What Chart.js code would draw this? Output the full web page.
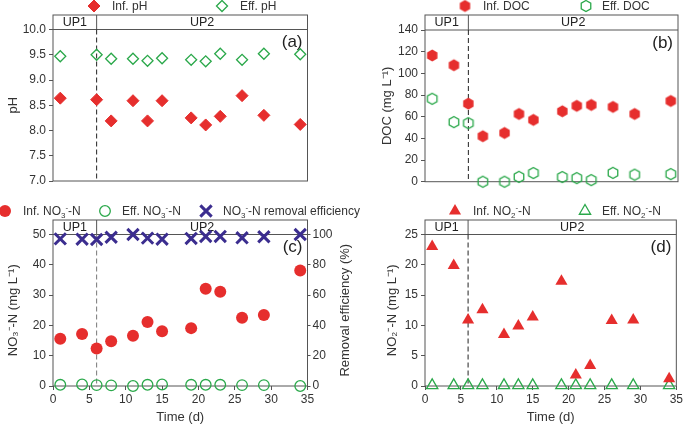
<!DOCTYPE html>
<html>
<head>
<meta charset="utf-8">
<script src="https://cdn.jsdelivr.net/npm/chart.js@4.4.1/dist/chart.umd.min.js"></script>
<style>
  body { margin: 0; background: #fff; }
  #wrap { position: relative; width: 685px; height: 426px; overflow: hidden; }
  canvas { position: absolute; }
</style>
</head>
<body>
<div id="wrap">
  <canvas id="pa" width="345" height="200" style="left:0;top:0"></canvas>
  <canvas id="pb" width="345" height="200" style="left:340px;top:0"></canvas>
  <canvas id="pc" width="365" height="226" style="left:0;top:200px"></canvas>
  <canvas id="pd" width="345" height="226" style="left:340px;top:200px"></canvas>
</div>
<script>
// sampling days (d)
var daysPH = [1, 6, 8, 11, 13, 15, 19, 21, 23, 26, 29, 34];
var days = [1, 4, 6, 8, 11, 13, 15, 19, 21, 23, 26, 29, 34];
var splitDay = 6;

// (a) pH
var infPH = [8.64, 8.61, 8.19, 8.59, 8.19, 8.59, 8.25, 8.11, 8.28, 8.69, 8.30, 8.12];
var effPH = [9.47, 9.50, 9.42, 9.42, 9.38, 9.43, 9.40, 9.37, 9.52, 9.40, 9.52, 9.51];
// (b) DOC, mg/L
var infDOC = [116.5, 107.5, 72, 42, 45, 62.5, 57, 65, 70, 70.8, 69, 62.5, 74.5];
var effDOC = [76.5, 55, 54, 0, 0, 4.5, 8, 4.3, 3.3, 1.5, 8.2, 6.5, 7];
// (c) nitrate, mg/L and removal %
var infNO3 = [15.6, 17.2, 12.4, 14.8, 16.6, 21.1, 18.1, 19.1, 32.1, 31.1, 22.5, 23.4, 38.1];
var effNO3 = [0.4, 0.5, 0.3, 0.2, 0, 0.4, 0.5, 0.4, 0.4, 0.4, 0.3, 0.3, 0];
var removalNO3 = [97.1, 96.9, 96.7, 98.2, 100, 97.6, 96.9, 97.4, 98.7, 98.7, 97.8, 98.5, 100];
// (d) nitrite, mg/L
var infNO2 = [23, 19.9, 10.9, 12.6, 8.5, 9.9, 11.4, 17.3, 1.8, 3.4, 10.8, 10.9, 1.2];
var effNO2 = [0.1, 0.1, 0.1, 0.1, 0.1, 0.1, 0.1, 0.1, 0.1, 0.1, 0.1, 0.1, 0.1];

var red = '#e62e2d';
var green = '#2aa84a';
var purple = '#3b2d8f';
var frame = '#555';
var txt = '#333';
var FONT = '"Liberation Sans", Arial, sans-serif';

function pts(xs, ys) {
  return xs.map(function(d, i) { return {x: d, y: ys[i]}; });
}

function hexagon(size, fill, stroke, lw) {
  var c = document.createElement('canvas');
  c.width = size + 3; c.height = size + 3;
  var g = c.getContext('2d');
  var r = size / 2, cx = c.width / 2, cy = c.height / 2;
  g.beginPath();
  for (var k = 0; k < 6; k++) {
    var a = -Math.PI / 2 + k * Math.PI / 3;
    if (k == 0) g.moveTo(cx + r * Math.cos(a), cy + r * Math.sin(a));
    else g.lineTo(cx + r * Math.cos(a), cy + r * Math.sin(a));
  }
  g.closePath();
  if (fill) { g.fillStyle = fill; g.fill(); }
  if (stroke) { g.strokeStyle = stroke; g.lineWidth = lw; g.stroke(); }
  return c;
}
var hexRed = hexagon(12, red, null, 0);
var hexGreen = hexagon(11, null, green, 1.3);

// legend text with _x subscripts and ^x superscripts
function drawRich(ctx, s, x, y) {
  var re = /([_^])(.)/g, last = 0, m;
  var parts = [];
  while ((m = re.exec(s))) {
    if (m.index > last) parts.push([s.slice(last, m.index), 0]);
    parts.push([m[2], m[1] == '_' ? 1 : -1]);
    last = re.lastIndex;
  }
  if (last < s.length) parts.push([s.slice(last), 0]);
  parts.forEach(function(p) {
    ctx.font = (p[1] ? '8px ' : '12px ') + FONT;
    ctx.fillText(p[0], x, y + p[1] * 4);
    x += ctx.measureText(p[0]).width;
  });
}

// frame, UP1/UP2 header box, dashed divider, panel tag and legend
var panelDeco = {
  id: 'panelDeco',
  beforeDatasetsDraw: function(chart, args, o) {
    var ctx = chart.ctx, a = chart.chartArea;
    var xd = chart.scales.x.getPixelForValue(splitDay);
    var top = a.top - o.headerH;
    ctx.save();
    ctx.strokeStyle = frame;
    ctx.lineWidth = 1;
    ctx.strokeRect(a.left, top, a.right - a.left, a.bottom - top);
    ctx.beginPath();
    ctx.moveTo(a.left, a.top); ctx.lineTo(a.right, a.top);
    ctx.moveTo(xd, top); ctx.lineTo(xd, a.top);
    ctx.stroke();
    ctx.setLineDash([5, 3]);
    ctx.strokeStyle = o.dashColor;
    ctx.beginPath();
    ctx.moveTo(xd, a.top); ctx.lineTo(xd, a.bottom);
    ctx.stroke();
    ctx.setLineDash([]);
    ctx.fillStyle = '#222';
    ctx.font = '12.5px ' + FONT;
    ctx.textAlign = 'center';
    ctx.textBaseline = 'middle';
    ctx.fillText('UP1', (a.left + xd) / 2, top + o.headerH / 2 + 0.5);
    ctx.fillText('UP2', (xd + a.right) / 2, top + o.headerH / 2 + 0.5);
    ctx.font = '17px ' + FONT;
    ctx.textAlign = 'right';
    ctx.fillText(o.tag, a.right - 5, a.top + 13);
    ctx.restore();
  },
  afterDraw: function(chart, args, o) {
    var ctx = chart.ctx;
    ctx.save();
    o.legend.forEach(function(it) {
      ctx.fillStyle = it.fill;
      ctx.strokeStyle = it.stroke;
      ctx.lineWidth = it.lw;
      Chart.helpers.drawPoint(ctx, {pointStyle: it.style, radius: it.radius, rotation: 0, borderWidth: it.lw}, it.x, o.legendY);
      ctx.fillStyle = txt;
      ctx.textAlign = 'left';
      ctx.textBaseline = 'middle';
      drawRich(ctx, it.text, it.tx, o.legendY + 1);
    });
    if (o.rightTitle) {
      var a = chart.chartArea;
      ctx.translate(o.rightTitle.x, (a.top + a.bottom) / 2);
      ctx.rotate(-Math.PI / 2);
      ctx.font = '13px ' + FONT;
      ctx.textAlign = 'center';
      ctx.fillText(o.rightTitle.text, 0, 0);
    }
    ctx.restore();
  }
};

function yAxis(min, max, step, title, width, titlePad, dec) {
  return {
    min: min, max: max,
    ticks: {stepSize: step, color: txt, font: {family: FONT, size: 12}, padding: 3,
      callback: function(v) { return dec ? v.toFixed(dec) : v; }},
    grid: {drawOnChartArea: false, drawTicks: true, tickLength: 4, color: frame},
    border: {display: false},
    title: {display: true, text: title, color: txt, font: {family: FONT, size: 13}, padding: {top: titlePad, bottom: 0}},
    afterFit: function(s) { s.width = width; }
  };
}

function xAxis(showLabels, height) {
  return {
    type: 'linear', min: 0, max: 35,
    ticks: {display: showLabels, stepSize: 5, color: txt, font: {family: FONT, size: 12}, padding: 2},
    grid: {display: showLabels, drawOnChartArea: false, drawTicks: true, tickLength: 4, color: frame},
    border: {display: false},
    title: {display: showLabels, text: 'Time (d)', color: txt, font: {family: FONT, size: 13}, padding: {top: 0, bottom: 1}},
    afterFit: function(s) { s.height = height; }
  };
}

function baseOptions(scales, padding, deco) {
  return {
    responsive: false,
    animation: false,
    events: [],
    layout: {padding: padding},
    scales: scales,
    plugins: {legend: {display: false}, tooltip: {enabled: false}, panelDeco: deco}
  };
}

// (a)
new Chart(document.getElementById('pa'), {
  type: 'scatter',
  data: {datasets: [
    {label: 'Inf. pH', data: pts(daysPH, infPH), pointStyle: 'rectRot', pointRadius: 6,
      backgroundColor: red, borderColor: red, borderWidth: 1, clip: false},
    {label: 'Eff. pH', data: pts(daysPH, effPH), pointStyle: 'rectRot', pointRadius: 5.5,
      backgroundColor: 'rgba(0,0,0,0)', borderColor: green, borderWidth: 1.3, clip: false}
  ]},
  options: baseOptions({
    x: xAxis(false, 19),
    y: yAxis(7, 10, 0.5, 'pH', 53, 6, 1)
  }, {top: 29.5, right: 37.5, bottom: 0, left: 0}, {
    headerH: 14.5, dashColor: '#222', tag: '(a)', legendY: 6,
    legend: [
      {text: 'Inf. pH', x: 94, tx: 112, style: 'rectRot', radius: 6, fill: red, stroke: red, lw: 1},
      {text: 'Eff. pH', x: 222, tx: 240, style: 'rectRot', radius: 5.5, fill: 'rgba(0,0,0,0)', stroke: green, lw: 1.3}
    ]
  }),
  plugins: [panelDeco]
});

// (b)
new Chart(document.getElementById('pb'), {
  type: 'scatter',
  data: {datasets: [
    {label: 'Inf. DOC', data: pts(days, infDOC), pointStyle: hexRed, clip: false},
    {label: 'Eff. DOC', data: pts(days, effDOC), pointStyle: hexGreen, clip: false}
  ]},
  options: baseOptions({
    x: xAxis(false, 18.3),
    y: yAxis(0, 140, 20, 'DOC (mg L\u207B\u00B9)', 85, 40, 0)
  }, {top: 30, right: 7, bottom: 0, left: 0}, {
    headerH: 15, dashColor: '#222', tag: '(b)', legendY: 6,
    legend: [
      {text: 'Inf. DOC', x: 125, tx: 143, style: hexRed, radius: 6, fill: red, stroke: red, lw: 0},
      {text: 'Eff. DOC', x: 246, tx: 262, style: hexGreen, radius: 6, fill: green, stroke: green, lw: 0}
    ]
  }),
  plugins: [panelDeco]
});

// (c)
var yR = {
  position: 'right', min: 0, max: 100,
  ticks: {stepSize: 20, color: txt, font: {family: FONT, size: 12}, padding: 2},
  grid: {drawOnChartArea: false, drawTicks: true, tickLength: 3, color: frame},
  border: {display: false},
  afterFit: function(s) { s.width = 57.5; }
};
new Chart(document.getElementById('pc'), {
  type: 'scatter',
  data: {datasets: [
    {label: 'Inf. NO3-N', data: pts(days, infNO3), pointStyle: 'circle', pointRadius: 6,
      backgroundColor: red, borderColor: red, borderWidth: 0, clip: false},
    {label: 'Eff. NO3-N', data: pts(days, effNO3), pointStyle: 'circle', pointRadius: 5.3,
      backgroundColor: 'rgba(0,0,0,0)', borderColor: green, borderWidth: 1.3, clip: false},
    {label: 'NO3-N removal efficiency', data: pts(days, removalNO3), yAxisID: 'y2', pointStyle: 'crossRot', pointRadius: 8,
      backgroundColor: purple, borderColor: purple, borderWidth: 3, clip: false}
  ]},
  options: baseOptions({
    x: xAxis(true, 40),
    y: yAxis(0, 50, 10, 'NO\u2083\u207B-N (mg L\u207B\u00B9)', 53, 6, 0),
    y2: yR
  }, {top: 34.5, right: 0, bottom: 0, left: 0}, {
    headerH: 14.5, dashColor: '#777', tag: '(c)', legendY: 11,
    rightTitle: {x: 345, text: 'Removal efficiency (%)'},
    legend: [
      {text: 'Inf. NO_3^--N', x: 5, tx: 23, style: 'circle', radius: 6, fill: red, stroke: red, lw: 0},
      {text: 'Eff. NO_3^--N', x: 105, tx: 122, style: 'circle', radius: 5.3, fill: 'rgba(0,0,0,0)', stroke: green, lw: 1.3},
      {text: 'NO_3^--N removal efficiency', x: 206, tx: 223, style: 'crossRot', radius: 8, fill: purple, stroke: purple, lw: 3}
    ]
  }),
  plugins: [panelDeco]
});

// (d)
new Chart(document.getElementById('pd'), {
  type: 'scatter',
  data: {datasets: [
    {label: 'Inf. NO2-N', data: pts(days, infNO2), pointStyle: 'triangle', pointRadius: 7,
      backgroundColor: red, borderColor: red, borderWidth: 0, clip: false},
    {label: 'Eff. NO2-N', data: pts(days, effNO2), pointStyle: 'triangle', pointRadius: 6.5,
      backgroundColor: 'rgba(0,0,0,0)', borderColor: green, borderWidth: 1.3, clip: false}
  ]},
  options: baseOptions({
    x: xAxis(true, 40),
    y: yAxis(0, 25, 5, 'NO\u2082\u207B-N (mg L\u207B\u00B9)', 85, 45, 0)
  }, {top: 34.5, right: 7, bottom: 0, left: 0}, {
    headerH: 14.5, dashColor: '#222', tag: '(d)', legendY: 11,
    legend: [
      {text: 'Inf. NO_2^--N', x: 115, tx: 133, style: 'triangle', radius: 7, fill: red, stroke: red, lw: 0},
      {text: 'Eff. NO_2^--N', x: 245, tx: 262, style: 'triangle', radius: 6.5, fill: 'rgba(0,0,0,0)', stroke: green, lw: 1.3}
    ]
  }),
  plugins: [panelDeco]
});
</script>
</body>
</html>
